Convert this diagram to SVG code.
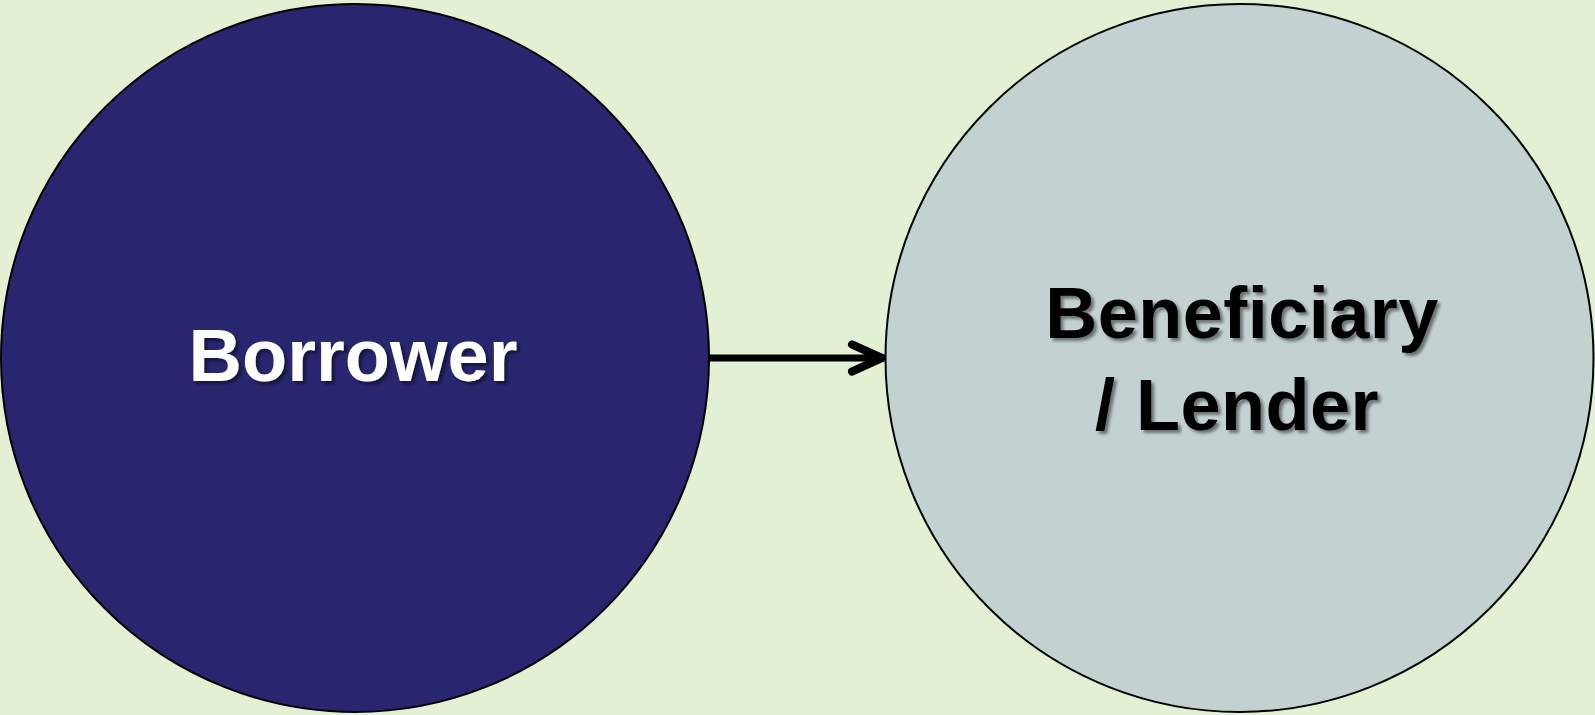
<svg xmlns="http://www.w3.org/2000/svg" width="1595" height="715" viewBox="0 0 1595 715">
  <defs>
    <filter id="txtShadow" x="-10%" y="-20%" width="130%" height="150%">
      <feGaussianBlur in="SourceAlpha" stdDeviation="1.8" result="b"/>
      <feOffset in="b" dx="3" dy="3" result="o"/>
      <feFlood flood-color="#000000" flood-opacity="0.45"/>
      <feComposite in2="o" operator="in" result="s"/>
      <feMerge>
        <feMergeNode in="s"/>
        <feMergeNode in="SourceGraphic"/>
      </feMerge>
    </filter>
    <marker id="openArrow" viewBox="0 0 20 20" refX="17" refY="10" markerWidth="20" markerHeight="20" markerUnits="userSpaceOnUse" orient="auto" overflow="visible">
      <path d="M -13 -3.5 L 17 10 L -13 23.5" fill="none" stroke="#000" stroke-width="8" stroke-linecap="round" stroke-linejoin="round"/>
    </marker>
  </defs>
  <style>
    .node { stroke: #000; stroke-width: 2; }
    .label { font-family: "Liberation Sans", Arial, sans-serif; font-weight: bold; text-anchor: middle; filter: url(#txtShadow); }
  </style>
  <rect width="1595" height="715" fill="#E2F0D3"/>

  <g id="connectors">
    <line x1="708" y1="358" x2="882" y2="358" stroke="#000" stroke-width="7" marker-end="url(#openArrow)"/>
  </g>

  <g id="borrower">
    <circle class="node" cx="355" cy="358" r="354" fill="#27266F"/>
    <text class="label" x="353" y="381" font-size="74" fill="#FFFFFF">Borrower</text>
  </g>

  <g id="lender">
    <circle class="node" cx="1239.5" cy="358" r="354" fill="#C4D1D1"/>
    <text class="label" x="1242" y="338" font-size="72" letter-spacing="0.5" fill="#000000">Beneficiary</text>
    <text class="label" x="1237" y="430" font-size="72" letter-spacing="0.5" fill="#000000">/ Lender</text>
  </g>
</svg>
